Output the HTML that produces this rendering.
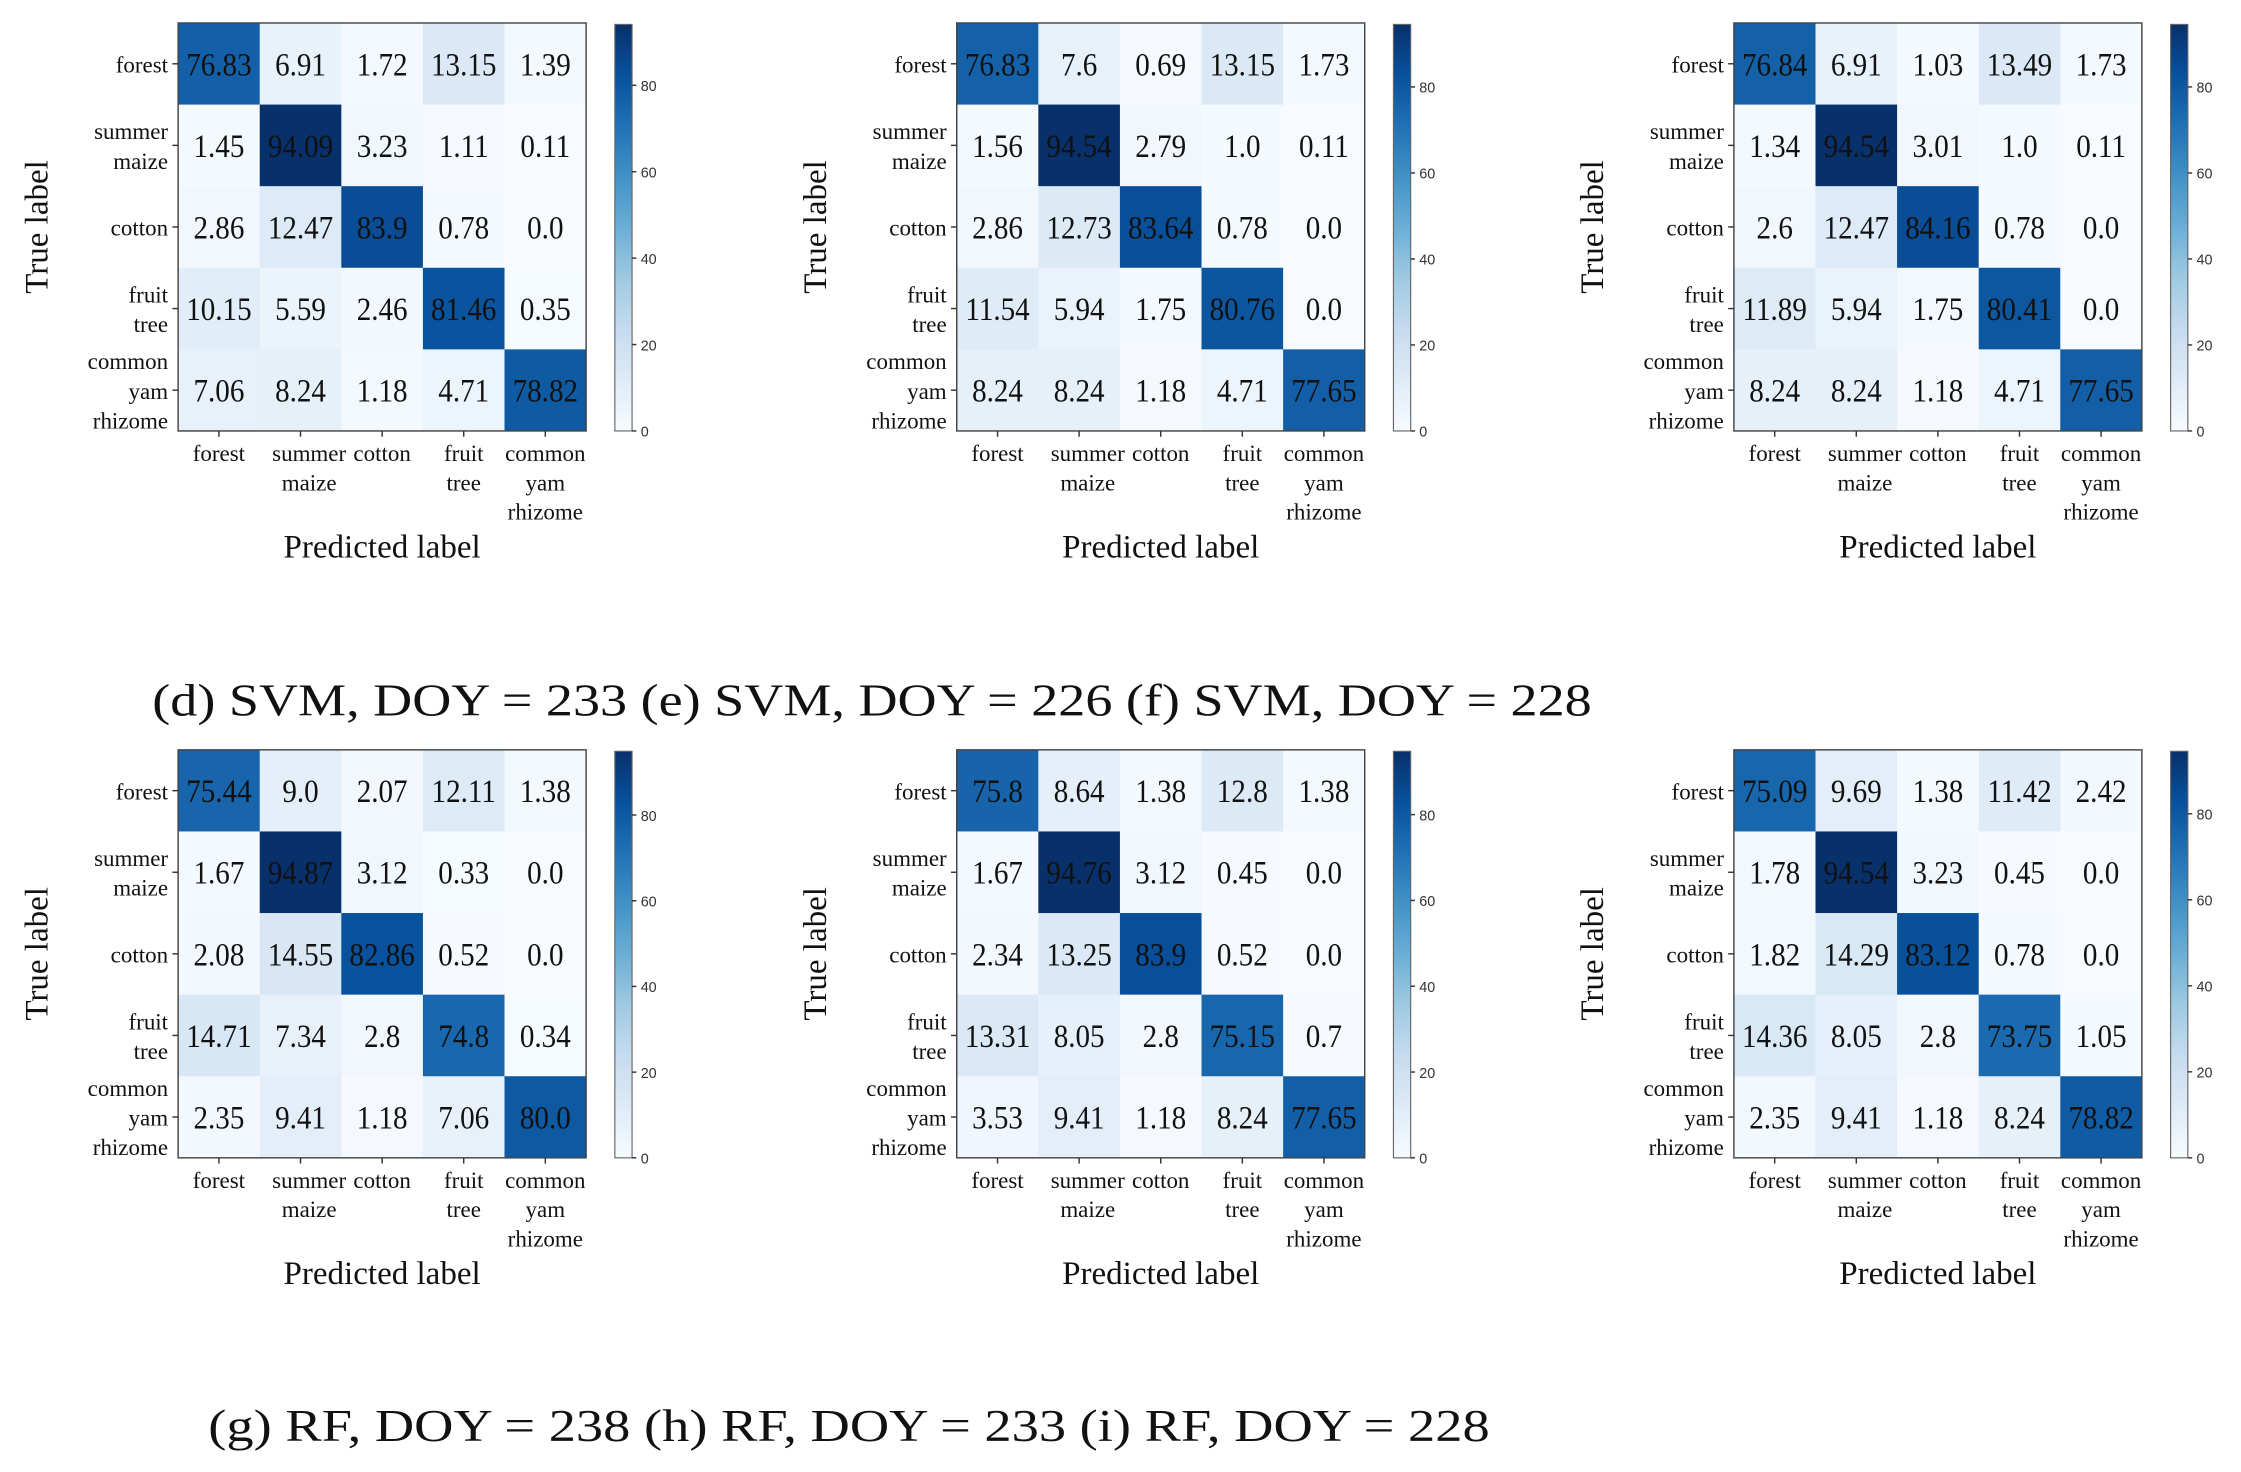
<!DOCTYPE html>
<html><head><meta charset="utf-8"><style>
html,body{margin:0;padding:0;background:#fff;}
svg{display:block;}
text{font-family:"Liberation Serif",serif;fill:#111;}
.cb{font-family:"Liberation Sans",sans-serif;font-size:10px;fill:#333;}
</style></head><body>
<svg id="fig" width="2241" height="1472" viewBox="0 0 1560 1024.7" preserveAspectRatio="none" xmlns="http://www.w3.org/2000/svg">
<text x="106" y="498" font-size="32" textLength="1002" lengthAdjust="spacingAndGlyphs">(d) SVM, DOY = 233 (e) SVM, DOY = 226 (f) SVM, DOY = 228</text>
<text x="145" y="1003" font-size="32" textLength="892" lengthAdjust="spacingAndGlyphs">(g) RF, DOY = 238 (h) RF, DOY = 233 (i) RF, DOY = 228</text>
</svg>
<script>
const classLabels = [["forest"],["summer","maize"],["cotton"],["fruit","tree"],["common","yam","rhizome"]];
const colorTicks = [0,20,40,60,80];
const m1 = [[76.83,6.91,1.72,13.15,1.39],[1.45,94.09,3.23,1.11,0.11],[2.86,12.47,83.9,0.78,0.0],[10.15,5.59,2.46,81.46,0.35],[7.06,8.24,1.18,4.71,78.82]];
const m2 = [[76.83,7.6,0.69,13.15,1.73],[1.56,94.54,2.79,1.0,0.11],[2.86,12.73,83.64,0.78,0.0],[11.54,5.94,1.75,80.76,0.0],[8.24,8.24,1.18,4.71,77.65]];
const m3 = [[76.84,6.91,1.03,13.49,1.73],[1.34,94.54,3.01,1.0,0.11],[2.6,12.47,84.16,0.78,0.0],[11.89,5.94,1.75,80.41,0.0],[8.24,8.24,1.18,4.71,77.65]];
const m4 = [[75.44,9.0,2.07,12.11,1.38],[1.67,94.87,3.12,0.33,0.0],[2.08,14.55,82.86,0.52,0.0],[14.71,7.34,2.8,74.8,0.34],[2.35,9.41,1.18,7.06,80.0]];
const m5 = [[75.8,8.64,1.38,12.8,1.38],[1.67,94.76,3.12,0.45,0.0],[2.34,13.25,83.9,0.52,0.0],[13.31,8.05,2.8,75.15,0.7],[3.53,9.41,1.18,8.24,77.65]];
const m6 = [[75.09,9.69,1.38,11.42,2.42],[1.78,94.54,3.23,0.45,0.0],[1.82,14.29,83.12,0.78,0.0],[14.36,8.05,2.8,73.75,1.05],[2.35,9.41,1.18,8.24,78.82]];
const matrices = [m1,m2,m3,m4,m5,m6];

const NS="http://www.w3.org/2000/svg";
const svg=document.getElementById('fig');
const stops=["#f7fbff","#deebf7","#c6dbef","#9ecae1","#6baed6","#4292c6","#2171b5","#08519c","#08306b"];
function hex(c){return [1,3,5].map(i=>parseInt(c.substr(i,2),16));}
function blues(t){t=Math.max(0,Math.min(1,t));const p=t*8,i=Math.min(7,Math.floor(p)),f=p-i;const a=hex(stops[i]),b=hex(stops[i+1]);return "rgb("+a.map((v,k)=>Math.round(v+(b[k]-v)*f)).join(",")+")";}
function fmt(v){return Number.isInteger(v)?v.toFixed(1):String(v);}
function el(tag,attrs,parent){const e=document.createElementNS(NS,tag);for(const k in attrs)e.setAttribute(k,attrs[k]);(parent||svg).appendChild(e);return e;}
let gid=0;
const origins=[[124,16],[666,16],[1207,16],[124,522],[666,522],[1207,522]];
matrices.forEach((M,pi)=>{
  const [x0,y0]=origins[pi]; const W=284,H=284,n=5,cw=W/n,ch=H/n;
  const vmax=Math.max(...M.flat());
  const g=el('g',{});
  
  
  const xs=j=>x0+j*cw, ys=i=>y0+i*ch;
  M.forEach((row,i)=>row.forEach((v,j)=>{
    const r=el('rect',{x:xs(j),y:ys(i),width:cw+0.3,height:ch+0.3,fill:blues(v/vmax)},g);
    
    
    const cx=xs(j)+cw/2, cy=ys(i)+ch/2+8;
    const t=el('text',{x:0,y:0,'font-size':23,'text-anchor':'middle',transform:'translate('+cx+','+cy+') scale(0.88,1)'},g);
    t.textContent=fmt(v);
    
    
  }));
  el('rect',{x:x0,y:y0,width:W,height:H,fill:'none',stroke:'#444','stroke-width':1},g);
  classLabels.forEach((lines,i)=>{
    const cy=ys(i)+ch/2;
    el('line',{x1:x0-4,x2:x0,y1:cy,y2:cy,stroke:'#333'},g);
    const t=el('text',{'font-size':16,'text-anchor':'end'},g);
    
    
    const start=cy+6-(lines.length-1)*10.3;
    lines.forEach((s,k)=>{const ts=el('tspan',{x:x0-7,y:start+k*20.6},t);ts.textContent=s;});
  });
  classLabels.forEach((lines,j)=>{
    const cx=xs(j)+cw/2;
    el('line',{x1:cx,x2:cx,y1:y0+H,y2:y0+H+4,stroke:'#333'},g);
    const t=el('text',{'font-size':16,'text-anchor':'middle'},g);
    
    
    lines.forEach((s,k)=>{const ts=el('tspan',{x:cx+(j==1?6:0),y:y0+H+21+k*20.3},t);ts.textContent=s;});
  });
  const yt=el('text',{x:0,y:0,'font-size':23,'text-anchor':'middle',transform:'translate('+(x0-91)+','+(y0+H/2)+') rotate(-90)'},g);
  yt.textContent='True label';
  
  
  const xt=el('text',{x:x0+W/2,y:y0+H+88,'font-size':23,'text-anchor':'middle'},g);
  xt.textContent='Predicted label';
  
  
  const cbx=x0+304,cbw=12;
  const gradId='grad'+(gid++);
  const defs=el('defs',{},g);
  const lg=el('linearGradient',{id:gradId,x1:0,y1:1,x2:0,y2:0},defs);
  stops.forEach((c,k)=>el('stop',{offset:(k/8),'stop-color':c},lg));
  const cb=el('rect',{x:cbx,y:y0+1,width:cbw,height:H-1,fill:'url(#'+gradId+')',stroke:'#666','stroke-width':0.8},g);
  
  
  colorTicks.forEach(v=>{
    const yy=y0+H-(v/vmax)*(H-1);
    el('line',{x1:cbx+cbw,x2:cbx+cbw+3,y1:yy,y2:yy,stroke:'#333'},g);
    const t=el('text',{x:cbx+cbw+6,y:yy+4,class:'cb'},g);
    t.textContent=String(v);
    
    
  });
});
</script>
</body></html>
